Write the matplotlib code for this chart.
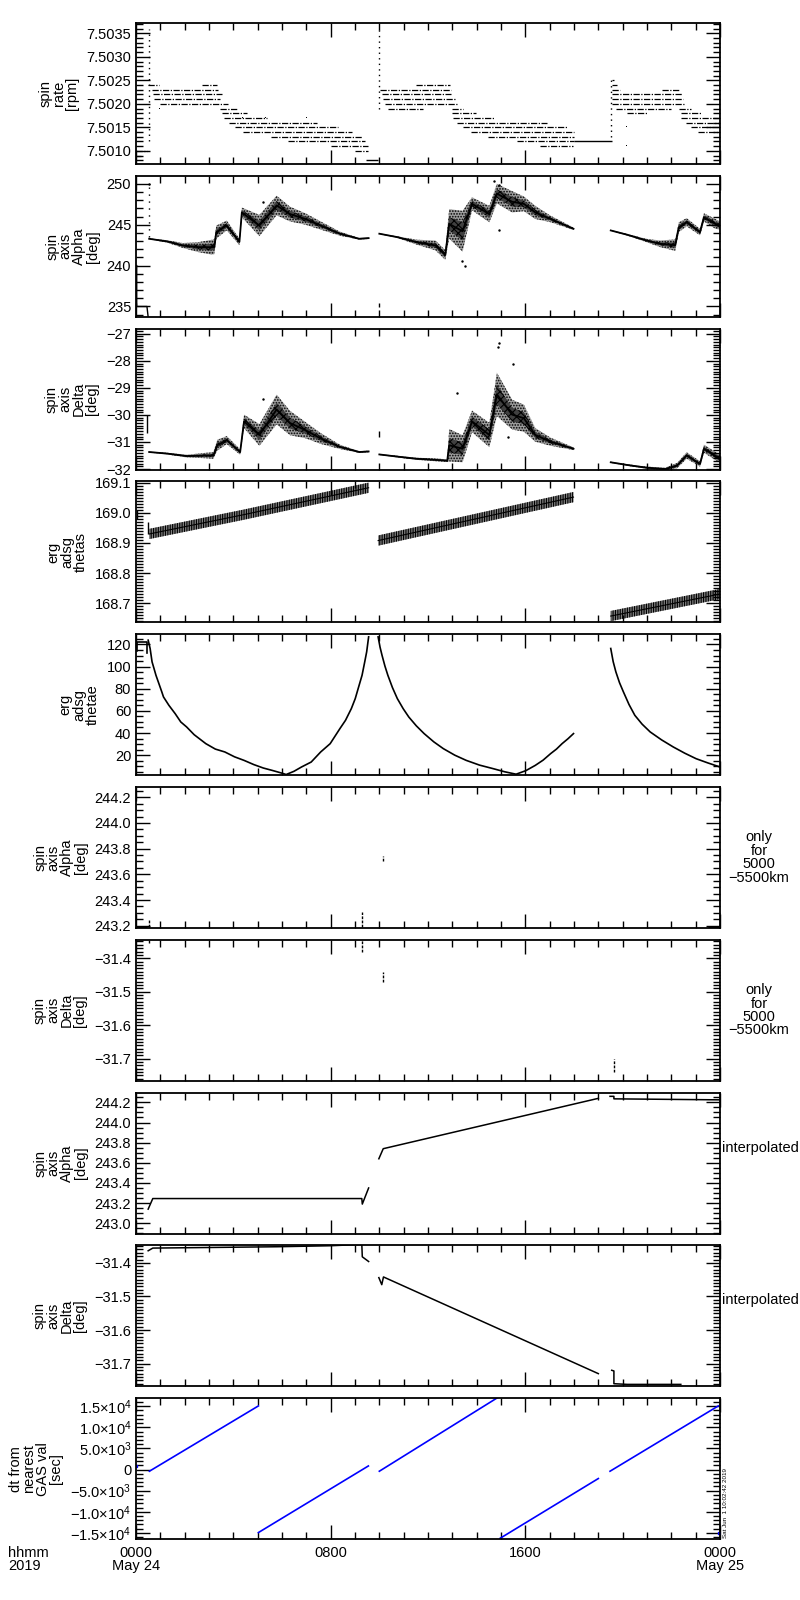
import numpy as np
import matplotlib.pyplot as plt
from matplotlib.ticker import MultipleLocator, FixedLocator, FixedFormatter, FuncFormatter

plt.rcParams['font.family'] = ['Liberation Sans', 'DejaVu Sans']
plt.rcParams['font.size'] = 10
plt.rcParams['hatch.linewidth'] = 0.8
plt.rcParams['mathtext.fontset'] = 'custom'
plt.rcParams['mathtext.rm'] = 'Liberation Sans'
plt.rcParams['mathtext.default'] = 'regular'

# ---- panel 1: spin rate, quantised levels (level, start hour, end hour)
rate_lvl = [7.5010, 7.5009, 7.5024, 7.5024, 7.5023, 7.5022, 7.5021, 7.5020, 7.5019, 7.5018,
            7.5017, 7.5016, 7.5015, 7.5014, 7.5013, 7.5012, 7.5011, 7.5010,
            7.5024, 7.5023, 7.5022, 7.5021, 7.5020, 7.5019, 7.5019, 7.5018, 7.5017, 7.5016,
            7.5015, 7.5014, 7.5013, 7.5012, 7.5011,
            7.5025, 7.5024, 7.5023, 7.5023, 7.5022, 7.5021, 7.5020, 7.5019, 7.5019, 7.5018,
            7.5018, 7.5017, 7.5016, 7.5015, 7.5014]
rate_t0 = [0.02, 0.02, 0.49, 2.71, 0.66, 0.70, 0.74, 0.99, 3.45, 3.53,
           3.62, 3.82, 4.07, 4.40, 5.55, 6.25, 8.01, 9.00,
           11.51, 10.03, 10.11, 10.15, 10.23, 10.36, 12.99, 12.99, 13.03, 13.19,
           13.44, 13.77, 14.47, 15.66, 16.60,
           19.56, 19.56, 19.56, 21.62, 19.56, 19.56, 19.56, 19.73, 22.32, 20.18,
           22.40, 22.40, 22.60, 22.81, 23.10]
rate_t1 = [0.45, 0.20, 0.95, 3.33, 3.37, 3.53, 3.45, 3.78, 4.19, 4.56,
           5.38, 7.44, 8.30, 8.88, 9.29, 9.41, 9.53, 9.53,
           12.90, 12.95, 12.95, 13.11, 13.19, 11.79, 13.44, 13.97, 14.75, 16.89,
           17.71, 18.00, 18.00, 18.00, 17.96,
           19.64, 19.77, 19.89, 22.32, 22.44, 22.48, 22.56, 22.00, 22.81, 21.04,
           23.26, 24.00, 24.00, 24.00, 24.00]
rate_solid_lvl = [7.5008, 7.5012]
rate_solid_t0 = [9.45, 18.00]
rate_solid_t1 = [9.95, 19.56]
rate_spk_t = [0.53, 9.98, 19.54]
rate_spk_lo = [7.5012, 7.5019, 7.5013]
rate_spk_hi = [7.5036, 7.50365, 7.5025]
rate_dot_t = [0.95, 4.35, 5.3, 7.0, 20.15, 20.15]
rate_dot_v = [7.5019, 7.5017, 7.5017, 7.5017, 7.5015, 7.5011]

# ---- panel 2: spin axis alpha (band centre and spread)
alpha_a_t = [0.54, 1.29, 1.92, 2.55, 3.10, 3.22, 3.30, 3.73, 4.25, 4.35, 5.07, 5.78, 6.33, 6.96, 7.59, 8.38, 9.17, 9.56]
alpha_a_c = [243.28, 242.95, 242.46, 242.26, 242.25, 242.3, 244.1, 244.9, 242.9, 246.5, 244.9, 247.35, 246.3, 245.7, 244.9, 243.9, 243.28, 243.36]
alpha_a_s = [0.05, 0.15, 0.3, 0.6, 0.9, 0.9, 0.8, 0.6, 0.4, 0.6, 1.3, 1.2, 0.9, 0.7, 0.5, 0.25, 0.1, 0.1]
alpha_b_t = [10.0, 10.74, 11.53, 12.31, 12.71, 12.87, 13.42, 13.81, 14.52, 14.83, 15.46, 15.94, 16.41, 17.04, 17.98]
alpha_b_c = [243.9, 243.48, 242.87, 242.46, 241.3, 245.1, 244.2, 247.55, 246.3, 248.8, 247.8, 247.55, 246.5, 245.7, 244.5]
alpha_b_s = [0.05, 0.1, 0.3, 0.6, 0.6, 1.8, 2.5, 0.8, 1.0, 1.2, 1.3, 0.9, 0.8, 0.4, 0.15]
alpha_c_t = [19.51, 20.19, 20.98, 21.53, 22.16, 22.31, 22.63, 23.18, 23.34, 23.81, 24.0]
alpha_c_c = [244.3, 243.77, 243.07, 242.67, 242.5, 244.7, 245.3, 244.1, 245.9, 245.1, 244.9]
alpha_c_s = [0.05, 0.1, 0.2, 0.4, 0.7, 0.6, 0.5, 0.4, 0.5, 0.6, 0.5]
alpha_pre_t = [0.03, 0.03, 0.03, 0.45, 0.50]
alpha_pre_v = [240.0, 238.2, 235.0, 235.0, 233.7]
alpha_out_t = [14.70, 14.90, 13.50, 13.40, 0.54, 14.9, 5.2]
alpha_out_v = [250.4, 249.9, 240.0, 240.6, 250.0, 244.4, 247.8]
alpha_mark_t = [9.98]
alpha_mark_lo = [234.9]
alpha_mark_hi = [235.4]

# ---- panel 3: spin axis delta
delta_a_t = [0.54, 1.29, 2.08, 2.87, 3.18, 3.34, 3.73, 4.28, 4.44, 5.07, 5.78, 6.33, 6.96, 7.59, 8.38, 9.17, 9.56]
delta_a_c = [-31.37, -31.43, -31.52, -31.50, -31.50, -31.12, -30.93, -31.37, -30.24, -30.74, -29.80, -30.30, -30.56, -30.87, -31.18, -31.37, -31.35]
delta_a_s = [0.02, 0.03, 0.05, 0.1, 0.12, 0.2, 0.15, 0.1, 0.25, 0.4, 0.55, 0.45, 0.3, 0.2, 0.08, 0.03, 0.03]
delta_b_t = [10.0, 10.74, 11.53, 12.31, 12.79, 12.87, 13.42, 13.81, 14.52, 14.83, 15.46, 15.94, 16.41, 17.04, 17.98]
delta_b_c = [-31.46, -31.54, -31.62, -31.66, -31.69, -31.12, -31.25, -30.24, -30.74, -29.24, -29.99, -30.12, -30.74, -30.99, -31.25]
delta_b_s = [0.02, 0.03, 0.04, 0.05, 0.05, 0.6, 0.5, 0.4, 0.45, 0.8, 0.55, 0.5, 0.25, 0.15, 0.05]
delta_c_t = [19.51, 20.19, 20.98, 21.76, 22.24, 22.63, 23.18, 23.34, 24.0]
delta_c_c = [-31.75, -31.85, -31.95, -32.0, -31.87, -31.50, -31.81, -31.25, -31.62]
delta_c_s = [0.02, 0.03, 0.04, 0.05, 0.1, 0.12, 0.1, 0.15, 0.15]
delta_mark_t = [0.47, 9.97]
delta_mark_lo = [-30.68, -30.80]
delta_mark_hi = [-30.00, -30.60]
delta_out_t = [14.90, 14.86, 15.50, 13.20, 15.30, 5.2]
delta_out_v = [-27.35, -27.50, -28.10, -29.20, -30.80, -29.4]

# ---- panel 4: theta_s (band centre, half height 0.017)
thetas_a_t = [0.55, 4.44, 9.56]
thetas_a_c = [168.930, 168.994, 169.083]
thetas_b_t = [9.95, 17.98]
thetas_b_c = [168.908, 169.052]
thetas_c_t = [19.51, 24.0]
thetas_c_c = [168.658, 168.731]

# ---- panel 5: theta_e
thetae_a_t = [0.50, 0.58, 0.66, 0.74, 0.82, 0.94, 1.06, 1.13, 1.35, 1.61, 1.84, 2.08, 2.39, 2.87, 3.26,
              3.65, 4.05, 4.44, 4.84, 5.23, 5.62, 6.02, 6.17, 6.49, 6.80, 7.20, 7.59, 7.98, 8.38, 8.61,
              8.85, 9.01, 9.17, 9.29, 9.40, 9.48, 9.56]
thetae_a_v = [123.9, 116.4, 104.3, 98.3, 92.2, 84.7, 77.2, 72.6, 65.1, 57.5, 50.0, 45.5, 38.5, 30.4, 25.5,
              22.9, 18.5, 15.3, 11.5, 8.4, 6.1, 3.6, 2.5, 5.4, 9.3, 13.8, 22.9, 30.4, 44.0, 51.5,
              62.1, 71.1, 83.2, 92.2, 104.3, 113.4, 126.9]
thetae_b_t = [9.95, 10.03, 10.11, 10.23, 10.35, 10.54, 10.74, 10.98, 11.21, 11.52, 11.84, 12.24, 12.63,
              13.10, 13.57, 14.12, 14.68, 15.15, 15.62, 16.02, 16.41, 16.73, 17.04, 17.28, 17.51, 17.75, 17.98]
thetae_b_v = [126.9, 117.5, 110.3, 100.5, 92.2, 81.0, 71.1, 62.0, 54.5, 46.5, 39.5, 32.0, 25.9,
              20.0, 15.3, 11.0, 7.8, 5.0, 2.8, 6.0, 10.8, 15.5, 21.4, 25.5, 30.4, 34.8, 39.5]
thetae_c_t = [19.51, 19.61, 19.72, 19.87, 20.03, 20.26, 20.50, 20.80, 21.13, 21.60, 22.08, 22.55, 23.02, 23.50, 24.0]
thetae_c_v = [116.4, 104.5, 95.3, 85.5, 77.2, 65.8, 56.0, 48.0, 41.0, 33.8, 27.4, 21.8, 16.8, 13.0, 9.3]
thetae_pre_t = [0.03, 0.03, 0.45, 0.45]
thetae_pre_v = [114.0, 122.5, 122.5, 112.0]

# ---- panels 6/7: values only for 5000-5500 km (short marks: time, low, high)
alpha_r_t = [0.55, 9.28, 10.17]
alpha_r_lo = [243.19, 243.19, 243.70]
alpha_r_hi = [243.25, 243.31, 243.74]
delta_r_t = [0.55, 9.28, 10.17, 19.64]
delta_r_lo = [-31.356, -31.380, -31.470, -31.740]
delta_r_hi = [-31.346, -31.345, -31.440, -31.700]

# ---- panels 8/9: interpolated
alpha_i_t = [0.50, 0.69, 9.28, 9.30, 9.56]
alpha_i_v = [243.14, 243.245, 243.245, 243.19, 243.35]
alpha_i2_t = [9.98, 10.16, 19.00]
alpha_i2_v = [243.64, 243.74, 244.24]
alpha_i3_t = [19.48, 19.64, 19.64, 24.0]
alpha_i3_v = [244.26, 244.26, 244.235, 244.225]
delta_i_t = [0.50, 0.69, 2.0, 5.8, 8.0, 9.28, 9.30, 9.56]
delta_i_v = [-31.364, -31.356, -31.355, -31.352, -31.349, -31.345, -31.382, -31.396]
delta_i2_t = [9.98, 10.10, 10.17, 19.00]
delta_i2_v = [-31.444, -31.465, -31.442, -31.730]
delta_i3_t = [19.55, 19.64, 19.64, 20.19, 22.39]
delta_i3_v = [-31.720, -31.722, -31.760, -31.762, -31.762]

# ---- panel 10: dt from nearest GAS value [s]
dt_t = [[0.55, 5.03], [5.03, 9.55], [10.0, 14.85], [14.96, 19.0], [19.48, 23.93]]
dt_v = [[-400, 15070], [-14930, 850], [-400, 17000], [-16300, -2130], [-400, 15070]]
dt_dot_t = [0.02, 23.95]
dt_dot_v = [900, -15000]
dt_ticks = [-15000, -10000, -5000, 0, 5000, 10000, 15000]
dt_ticklabels = ['\u22121.5\u00d710$^{4}$', '\u22121.0\u00d710$^{4}$', '\u22125.0\u00d710$^{3}$', '0',
                 '5.0\u00d710$^{3}$', '1.0\u00d710$^{4}$', '1.5\u00d710$^{4}$']

ylabels = ['spin\nrate\n[rpm]', 'spin\naxis\nAlpha\n[deg]', 'spin\naxis\nDelta\n[deg]',
           'erg\nadsg\nthetas', 'erg\nadsg\nthetae', 'spin\naxis\nAlpha\n[deg]',
           'spin\naxis\nDelta\n[deg]', 'spin\naxis\nAlpha\n[deg]', 'spin\naxis\nDelta\n[deg]',
           'dt from\nnearest\nGAS val\n[sec]']


def fmt(n):
    return FuncFormatter(lambda v, p: ('%.*f' % (n, v)).replace('-', '\u2212'))


fig = plt.figure(figsize=(8, 16), dpi=100)
W, H = 800.0, 1600.0
axes = []
for i in range(10):
    top = 23 + 152.8 * i
    ax = fig.add_axes([136 / W, 1 - (top + 141) / H, 584 / W, 141 / H])
    ax.set_xlim(0, 24)
    ax.xaxis.set_major_locator(FixedLocator([0, 8, 16, 24]))
    ax.xaxis.set_minor_locator(MultipleLocator(1))
    ax.tick_params(which='both', direction='in', top=True, right=True, width=1)
    ax.tick_params(which='major', length=10, labelsize=10.5)
    ax.tick_params(which='minor', length=5)
    for s in ax.spines.values():
        s.set_linewidth(1.3)
    ax.set_ylabel(ylabels[i], fontsize=10.5, linespacing=0.95, labelpad=5)
    if i < 9:
        ax.set_xticklabels([])
    axes.append(ax)


def band(ax, t, c, s):
    c = np.array(c)
    s = np.array(s)
    ax.fill_between(t, c - s, c + s, facecolor='0.62', edgecolor='black', hatch='......', lw=0)
    ax.fill_between(t, c - s * 0.45, c + s * 0.45, facecolor='0.25', edgecolor='black', hatch='xxxx', lw=0)
    ax.plot(t, c, color='black', lw=1.3)


# panel 1
ax = axes[0]
ax.hlines(rate_lvl, rate_t0, rate_t1, color='black', lw=0.9, linestyles=(0, (5, 1.2, 1, 1.2)))
ax.hlines(rate_solid_lvl, rate_solid_t0, rate_solid_t1, color='black', lw=1)
ax.vlines(rate_spk_t, rate_spk_lo, rate_spk_hi, color='black', lw=1, linestyles=(0, (1, 3)))
ax.plot(rate_dot_t, rate_dot_v, ',', color='black')
ax.set_ylim(7.50072, 7.50372)
ax.yaxis.set_major_locator(MultipleLocator(0.0005))
ax.yaxis.set_minor_locator(MultipleLocator(0.0001))
ax.yaxis.set_major_formatter(fmt(4))

# panel 2
ax = axes[1]
for t, c, s in [(alpha_a_t, alpha_a_c, alpha_a_s), (alpha_b_t, alpha_b_c, alpha_b_s), (alpha_c_t, alpha_c_c, alpha_c_s)]:
    band(ax, t, c, s)
ax.plot(alpha_pre_t, alpha_pre_v, color='black', lw=1)
ax.plot(alpha_out_t, alpha_out_v, 's', color='black', ms=0.7)
ax.vlines([0.54], [243.5], [250.0], color='black', lw=1, linestyles=(0, (1, 4)))
ax.vlines(alpha_mark_t, alpha_mark_lo, alpha_mark_hi, color='black', lw=1)
ax.set_ylim(233.74, 250.98)
ax.yaxis.set_major_locator(MultipleLocator(5))
ax.yaxis.set_minor_locator(MultipleLocator(1))
ax.yaxis.set_major_formatter(fmt(0))

# panel 3
ax = axes[2]
for t, c, s in [(delta_a_t, delta_a_c, delta_a_s), (delta_b_t, delta_b_c, delta_b_s), (delta_c_t, delta_c_c, delta_c_s)]:
    band(ax, t, c, s)
ax.vlines(delta_mark_t, delta_mark_lo, delta_mark_hi, color='black', lw=1)
ax.plot(delta_out_t, delta_out_v, 's', color='black', ms=0.7)
ax.set_ylim(-32.02, -26.81)
ax.yaxis.set_major_locator(MultipleLocator(1))
ax.yaxis.set_minor_locator(MultipleLocator(0.1))
ax.yaxis.set_major_formatter(fmt(0))

# panel 4
ax = axes[3]
for t, c in [(thetas_a_t, thetas_a_c), (thetas_b_t, thetas_b_c), (thetas_c_t, thetas_c_c)]:
    c = np.array(c)
    ax.fill_between(t, c - 0.017, c + 0.017, facecolor='0.5', edgecolor='black', hatch='|||||||', lw=0)
    ax.plot(t, c, color='black', lw=0.8)
ax.vlines([0.50, 0.03], [168.93, 168.98], [168.97, 169.01], color='black', lw=1)
ax.set_ylim(168.637, 169.104)
ax.yaxis.set_major_locator(MultipleLocator(0.1))
ax.yaxis.set_minor_locator(MultipleLocator(0.01))
ax.yaxis.set_major_formatter(fmt(1))

# panel 5
ax = axes[4]
for t, v in [(thetae_a_t, thetae_a_v), (thetae_b_t, thetae_b_v), (thetae_c_t, thetae_c_v), (thetae_pre_t, thetae_pre_v)]:
    ax.plot(t, v, color='black', lw=1.2)
ax.set_ylim(1.9, 129.3)
ax.yaxis.set_major_locator(FixedLocator([20, 40, 60, 80, 100, 120]))
ax.yaxis.set_minor_locator(MultipleLocator(5))

# panel 6
ax = axes[5]
ax.vlines(alpha_r_t, alpha_r_lo, alpha_r_hi, color='black', lw=1, linestyles=(0, (2, 1)))
ax.hlines([243.19, 243.19], [0.0, 23.5], [0.45, 24.0], color='black', lw=1)
ax.set_ylim(243.182, 244.28)
ax.yaxis.set_major_locator(MultipleLocator(0.2))
ax.yaxis.set_minor_locator(MultipleLocator(0.05))
ax.yaxis.set_major_formatter(fmt(1))

# panel 7
ax = axes[6]
ax.vlines(delta_r_t, delta_r_lo, delta_r_hi, color='black', lw=1, linestyles=(0, (2, 1)))
ax.set_ylim(-31.766, -31.345)
ax.yaxis.set_major_locator(MultipleLocator(0.1))
ax.yaxis.set_minor_locator(MultipleLocator(0.01))
ax.yaxis.set_major_formatter(fmt(1))

# panel 8
ax = axes[7]
for t, v in [(alpha_i_t, alpha_i_v), (alpha_i2_t, alpha_i2_v), (alpha_i3_t, alpha_i3_v)]:
    ax.plot(t, v, color='black', lw=1.1)
ax.set_ylim(242.897, 244.297)
ax.yaxis.set_major_locator(MultipleLocator(0.2))
ax.yaxis.set_minor_locator(MultipleLocator(0.05))
ax.yaxis.set_major_formatter(fmt(1))

# panel 9
ax = axes[8]
for t, v in [(delta_i_t, delta_i_v), (delta_i2_t, delta_i2_v), (delta_i3_t, delta_i3_v)]:
    ax.plot(t, v, color='black', lw=1.1)
ax.set_ylim(-31.768, -31.348)
ax.yaxis.set_major_locator(MultipleLocator(0.1))
ax.yaxis.set_minor_locator(MultipleLocator(0.01))
ax.yaxis.set_major_formatter(fmt(1))

# panel 10
ax = axes[9]
for t, v in zip(dt_t, dt_v):
    ax.plot(t, v, color='blue', lw=1.2)
ax.plot(dt_dot_t, dt_dot_v, 's', color='blue', ms=1.5)
ax.set_ylim(-16500, 16900)
ax.yaxis.set_major_locator(FixedLocator(dt_ticks))
ax.yaxis.set_major_formatter(FixedFormatter(dt_ticklabels))
ax.yaxis.set_minor_locator(MultipleLocator(1000))
ax.set_xticklabels(['0000\nMay 24', '0800', '1600', '0000\nMay 25'], fontsize=10.5, linespacing=0.9)
ax.tick_params(axis='x', which='major', pad=5)

# right-hand notes
for ax in axes[5:7]:
    ax.text(1.067, 0.5, 'only\nfor\n5000\n\u22125500km', transform=ax.transAxes, ha='center',
            va='center', multialignment='center', fontsize=10.5, linespacing=0.95)
for ax in axes[7:9]:
    ax.text(1.003, 0.61, 'interpolated', transform=ax.transAxes, ha='left', va='center', fontsize=10.5)

fig.text(8 / W, 1 - 1546 / H, 'hhmm\n2019', ha='left', va='top', fontsize=10.5, linespacing=0.9)
fig.text(723 / W, 1 - 1538 / H, 'Sat Jun  1 10:02:42 2019', rotation=90, ha='left', va='bottom', fontsize=4.5)

fig.savefig('out.png', dpi=100)
